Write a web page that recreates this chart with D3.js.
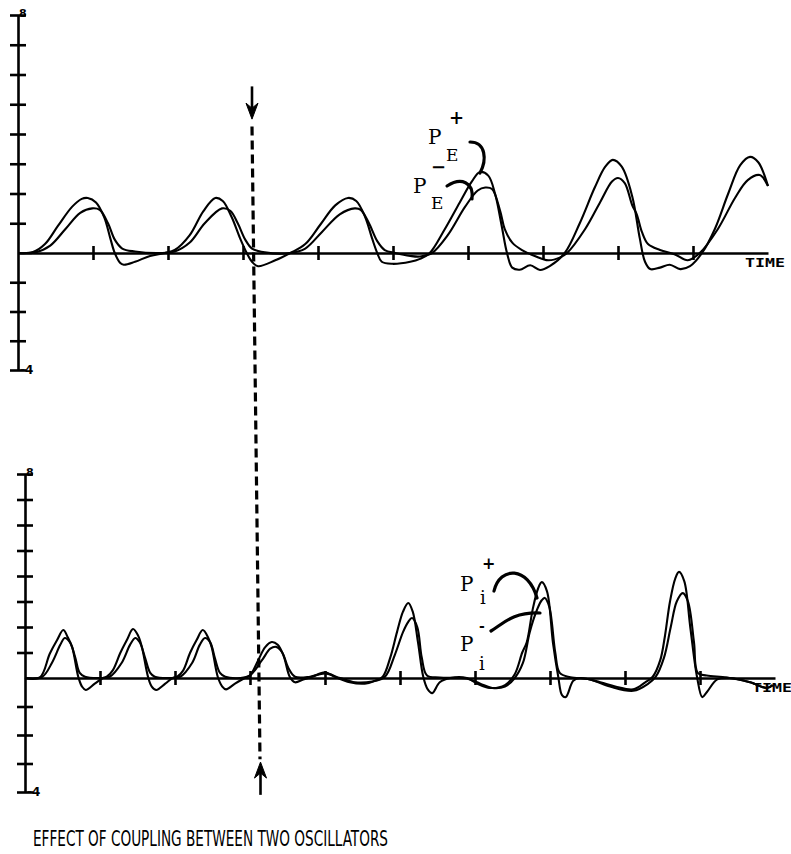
<!DOCTYPE html>
<html>
<head>
<meta charset="utf-8">
<script src="https://cdn.jsdelivr.net/npm/d3@7"></script>
<style>
  html, body { margin: 0; padding: 0; background: #fff; }
  svg { display: block; }
</style>
</head>
<body>
<svg id="chart" width="791" height="854"></svg>
<script>
// ---- Upper trace pair: P_E+ (larger swing) and P_E- ([time, amplitude]) ----
const pEPlus = [
  [0.00, 0], [0.20, 0.03], [0.36, 0.3], [0.53, 0.9], [0.72, 1.55], [0.85, 1.82], [0.93, 1.85],
  [1.04, 1.7], [1.15, 1.2], [1.23, 0.5], [1.29, 0.0], [1.36, -0.33], [1.41, -0.4], [1.56, -0.3],
  [1.76, -0.1], [1.96, 0.0], [2.09, 0.1], [2.29, 0.6], [2.47, 1.4], [2.63, 1.85], [2.73, 1.75],
  [2.85, 1.2], [2.96, 0.5], [3.05, 0.0], [3.12, -0.3], [3.20, -0.45], [3.43, -0.25], [3.63, 0.0],
  [3.83, 0.3], [4.03, 0.95], [4.23, 1.6], [4.40, 1.85], [4.51, 1.75], [4.63, 1.2], [4.72, 0.5],
  [4.79, 0.0], [4.85, -0.3], [4.99, -0.37], [5.23, -0.3], [5.36, -0.2], [5.49, 0.0], [5.69, 0.8],
  [5.89, 1.7], [6.05, 2.4], [6.16, 2.72], [6.27, 2.6], [6.36, 2.0], [6.45, 0.9], [6.52, 0.0],
  [6.59, -0.5], [6.69, -0.57], [6.83, -0.42], [6.96, -0.58], [7.09, -0.45], [7.29, 0.0],
  [7.49, 1.0], [7.69, 2.2], [7.83, 2.9], [7.93, 3.13], [8.05, 2.9], [8.19, 1.9], [8.29, 0.5],
  [8.36, -0.3], [8.43, -0.55], [8.56, -0.5], [8.69, -0.4], [8.83, -0.55], [8.96, -0.45],
  [9.12, 0.0], [9.29, 0.8], [9.47, 2.0], [9.63, 2.95], [9.76, 3.23], [9.87, 3.05], [10.00, 2.25]
];
const pEMinus = [
  [0.00, 0], [0.23, 0.02], [0.43, 0.25], [0.63, 0.8], [0.83, 1.35], [0.99, 1.5], [1.09, 1.45],
  [1.20, 1.0], [1.29, 0.45], [1.39, 0.15], [1.56, 0.05], [1.89, 0.0], [2.09, 0.05], [2.29, 0.35],
  [2.49, 1.0], [2.72, 1.5], [2.83, 1.42], [2.93, 1.0], [3.03, 0.45], [3.12, 0.15], [3.29, 0.02],
  [3.63, 0.0], [3.83, 0.15], [4.05, 0.7], [4.29, 1.3], [4.49, 1.5], [4.57, 1.45], [4.68, 1.0],
  [4.79, 0.4], [4.89, 0.1], [5.03, 0.0], [5.23, -0.1], [5.36, -0.12], [5.52, 0.0], [5.73, 0.6],
  [5.96, 1.55], [6.13, 2.1], [6.23, 2.2], [6.32, 2.15], [6.43, 1.4], [6.49, 0.8], [6.59, 0.35],
  [6.72, 0.1], [6.89, -0.1], [7.07, -0.25], [7.23, -0.15], [7.32, 0.0], [7.56, 0.8], [7.76, 1.7],
  [7.92, 2.4], [8.00, 2.52], [8.09, 2.35], [8.19, 1.6], [8.25, 1.3], [8.32, 0.7], [8.40, 0.3],
  [8.56, 0.1], [8.76, -0.05], [8.93, -0.25], [9.09, 0.0], [9.33, 0.8], [9.56, 1.85], [9.73, 2.45],
  [9.89, 2.62], [10.00, 2.25]
];

// ---- Lower trace pair: P_i+ and P_i- ----
const pIPlus = [
  [0.00, 0], [0.20, 0.03], [0.33, 0.95], [0.43, 1.5], [0.51, 1.88], [0.57, 1.6], [0.63, 1.2],
  [0.71, 0.05], [0.76, -0.3], [0.81, -0.42], [0.93, -0.2], [1.04, 0.0],
  [1.09, 0.05], [1.17, 0.3], [1.27, 0.98], [1.36, 1.5], [1.44, 1.92], [1.51, 1.65], [1.56, 1.2],
  [1.64, 0.05], [1.69, -0.3], [1.75, -0.42], [1.87, -0.2], [1.97, 0.0],
  [2.03, 0.05], [2.11, 0.3], [2.20, 0.98], [2.29, 1.5], [2.37, 1.88], [2.44, 1.6], [2.49, 1.2],
  [2.57, 0.05], [2.63, -0.3], [2.68, -0.4], [2.80, -0.2], [2.93, 0.0],
  [3.00, 0.1], [3.11, 0.7], [3.20, 1.2], [3.29, 1.41], [3.37, 1.3], [3.45, 0.85], [3.53, 0.05],
  [3.60, -0.15], [3.71, -0.05], [3.83, 0.05], [4.00, 0.22], [4.13, 0.05], [4.33, -0.15],
  [4.53, -0.2], [4.67, -0.1], [4.77, 0.05], [4.87, 0.8], [4.96, 1.8], [5.04, 2.6], [5.11, 2.94],
  [5.17, 2.6], [5.24, 1.4], [5.31, 0.05], [5.37, -0.4], [5.43, -0.53], [5.53, -0.15], [5.67, 0.0],
  [5.89, 0.0], [6.03, -0.2], [6.20, -0.35], [6.40, -0.25], [6.53, 0.15], [6.63, 1.0], [6.69, 1.4],
  [6.77, 2.7], [6.84, 3.5], [6.89, 3.76], [6.96, 3.4], [7.04, 1.37], [7.11, 0.05], [7.16, -0.6],
  [7.21, -0.67], [7.31, -0.1], [7.40, 0.0], [7.67, -0.15], [7.87, -0.3], [8.11, -0.4],
  [8.27, -0.15], [8.37, 0.05], [8.47, 0.7], [8.53, 1.6], [8.60, 3.0], [8.67, 3.9], [8.72, 4.16],
  [8.79, 3.8], [8.87, 2.0], [8.96, 0.05], [9.03, -0.67], [9.09, -0.5], [9.23, -0.05], [9.40, 0.0],
  [9.67, -0.15], [9.89, -0.35], [9.97, -0.25]
];
const pIMinus = [
  [0.00, 0], [0.23, 0.05], [0.36, 0.6], [0.47, 1.3], [0.53, 1.57], [0.60, 1.4], [0.67, 0.8],
  [0.73, 0.2], [0.80, 0.05], [1.00, 0.0],
  [1.13, 0.05], [1.29, 0.6], [1.40, 1.3], [1.47, 1.57], [1.53, 1.4], [1.60, 0.8], [1.67, 0.2],
  [1.73, 0.05], [1.93, 0.0],
  [2.07, 0.05], [2.23, 0.6], [2.33, 1.3], [2.40, 1.57], [2.47, 1.4], [2.53, 0.8], [2.60, 0.2],
  [2.67, 0.05], [2.87, 0.0],
  [3.00, 0.1], [3.16, 0.7], [3.27, 1.15], [3.35, 1.22], [3.43, 1.0], [3.51, 0.4], [3.60, 0.05],
  [3.80, 0.05], [4.00, 0.18], [4.20, 0.0], [4.40, -0.15], [4.63, -0.12], [4.80, 0.05],
  [4.93, 0.9], [5.04, 1.8], [5.11, 2.2], [5.16, 2.35], [5.23, 2.0], [5.29, 0.8], [5.36, 0.1],
  [5.53, 0.02], [5.89, -0.02], [6.07, -0.2], [6.23, -0.35], [6.40, -0.3], [6.53, 0.0],
  [6.64, 0.6], [6.73, 1.8], [6.83, 2.7], [6.89, 3.05], [6.93, 3.14], [6.99, 2.8], [7.07, 1.0],
  [7.13, 0.2], [7.27, 0.03], [7.53, -0.05], [7.80, -0.3], [8.11, -0.45], [8.31, -0.2],
  [8.41, 0.05], [8.52, 0.8], [8.61, 2.0], [8.69, 3.0], [8.77, 3.33], [8.84, 3.0], [8.92, 1.4],
  [8.97, 0.2], [9.09, 0.1], [9.36, 0.02], [9.67, -0.15], [9.89, -0.35], [9.97, -0.25]
];

// ---- Axes ----
const timeTicks = [1, 2, 3, 4, 5, 6, 7, 8, 9];
const ampTicks = [-4, -3, -2, -1, 1, 2, 3, 4, 5, 6, 7, 8];
const ampTopLabel = "8";
const ampBottomLabel = "-4";
const timeLabel = "TIME";
const couplingTime = 3.12;   // instant the coupling is applied (dashed marker)
const caption = "EFFECT OF COUPLING BETWEEN TWO OSCILLATORS";

const svg = d3.select("#chart");
const ink = "#000";

// Two panels share the time domain; amplitude runs from -4 to 8.
const panels = [
  {
    x: d3.scaleLinear().domain([0, 10]).range([18, 768]),
    y: d3.scaleLinear().domain([-4, 0, 8]).range([370, 253, 15]),
    series: [pEPlus, pEMinus]
  },
  {
    x: d3.scaleLinear().domain([0, 10]).range([25, 775]),
    y: d3.scaleLinear().domain([-4, 0, 8]).range([792, 678, 474]),
    series: [pIPlus, pIMinus]
  }
];

panels.forEach(p => {
  const g = svg.append("g");

  // time axis with ticks crossing the baseline
  const xa = g.append("g")
    .attr("transform", `translate(0,${p.y(0)})`)
    .call(d3.axisBottom(p.x).tickValues(timeTicks).tickSize(7).tickSizeOuter(0).tickFormat(""));
  xa.selectAll(".tick line").attr("y1", -7).attr("y2", 7);

  // amplitude axis with ticks crossing the axis line
  const ya = g.append("g")
    .attr("transform", `translate(${p.x(0)},0)`)
    .call(d3.axisLeft(p.y).tickValues(ampTicks).tickSize(8).tickSizeOuter(0).tickFormat(""));
  ya.selectAll(".tick line").attr("x1", 8).attr("x2", -8);

  g.selectAll(".domain, .tick line")
    .attr("stroke", ink).attr("stroke-width", 2.6);

  g.append("text")
    .attr("x", p.x(0) + 1).attr("y", p.y(8) + 2)
    .attr("font-family", "DejaVu Sans, sans-serif").attr("font-weight", "bold")
    .attr("font-size", 11).attr("fill", ink).text(ampTopLabel);
  g.append("text")
    .attr("x", p.x(0) + 2).attr("y", p.y(-4) + 4)
    .attr("font-family", "DejaVu Sans, sans-serif").attr("font-weight", "bold")
    .attr("font-size", 12).attr("fill", ink).text(ampBottomLabel);

  g.append("text")
    .attr("x", p.x(10) - 23).attr("y", p.y(0) + 14)
    .attr("font-family", "DejaVu Sans Mono, monospace").attr("font-weight", "bold")
    .attr("font-size", 12).attr("textLength", 40).attr("lengthAdjust", "spacingAndGlyphs")
    .attr("fill", ink).text(timeLabel);

  const line = d3.line()
    .x(d => p.x(d[0])).y(d => p.y(d[1]))
    .curve(d3.curveCatmullRom.alpha(0.5));

  g.selectAll("path.trace").data(p.series).join("path")
    .attr("class", "trace")
    .attr("d", line)
    .attr("fill", "none").attr("stroke", ink)
    .attr("stroke-width", 2.1).attr("stroke-linejoin", "round");
});

// ---- Dashed marker running through both panels at the coupling instant ----
const upper = panels[0], lower = panels[1];
const mx1 = upper.x(couplingTime), my1 = upper.y(4.25);
const mx2 = lower.x(couplingTime) + 1, my2 = lower.y(-2.85);
svg.append("line")
  .attr("x1", mx1).attr("y1", my1).attr("x2", mx2).attr("y2", my2)
  .attr("stroke", ink).attr("stroke-width", 3.2).attr("stroke-dasharray", "9 5");

function arrow(x, yTail, yTip) {
  const dir = yTip > yTail ? 1 : -1;
  svg.append("line").attr("x1", x).attr("y1", yTail).attr("x2", x).attr("y2", yTip - dir * 8)
    .attr("stroke", ink).attr("stroke-width", 2.6);
  svg.append("path")
    .attr("d", `M${x - 6},${yTip - dir * 16} L${x},${yTip} L${x + 6},${yTip - dir * 16} L${x},${yTip - dir * 11} Z`)
    .attr("fill", ink).attr("stroke", ink).attr("stroke-width", 1);
}
arrow(mx1, upper.y(5.6), upper.y(4.5));
arrow(mx2 + 0.5, lower.y(-4.1), lower.y(-2.95));

// ---- Trace labels with hooked pointers ----
const serif = "DejaVu Serif, Liberation Serif, serif";
function label(g, x, y, size, txt, weight) {
  g.append("text").attr("x", x).attr("y", y)
    .attr("font-family", serif).attr("font-size", size)
    .attr("font-weight", weight || "normal").attr("fill", ink).text(txt);
}
const ann = svg.append("g");
label(ann, 428, 144, 20, "P");
label(ann, 446, 161, 17, "E");
label(ann, 449, 124, 18, "+", "bold");
label(ann, 413, 193, 20, "P");
label(ann, 431, 209, 17, "E");
label(ann, 431, 173, 18, "\u2212", "bold");

label(ann, 460, 591, 20, "P");
label(ann, 480, 604, 18, "i");
label(ann, 482, 569, 16, "+", "bold");
label(ann, 460, 651, 20, "P");
label(ann, 479, 670, 18, "i");
label(ann, 479, 631, 14, "-", "bold");

const hooks = [
  "M470,142 C486,142 487,160 480,173",
  "M447,186 C461,177 474,182 472,199",
  "M494,591 C500,566 528,566 537,598",
  "M491,631 C503,624 512,612 540,613"
];
ann.selectAll("path.hook").data(hooks).join("path")
  .attr("class", "hook").attr("d", d => d)
  .attr("fill", "none").attr("stroke", ink).attr("stroke-width", 3.2)
  .attr("stroke-linecap", "round");

// ---- Caption ----
svg.append("text")
  .attr("x", 33).attr("y", 846)
  .attr("font-family", "Liberation Sans Narrow, DejaVu Sans Condensed, sans-serif")
  .attr("font-size", 21).attr("textLength", 355).attr("lengthAdjust", "spacingAndGlyphs")
  .attr("fill", ink).text(caption);
</script>
</body>
</html>
